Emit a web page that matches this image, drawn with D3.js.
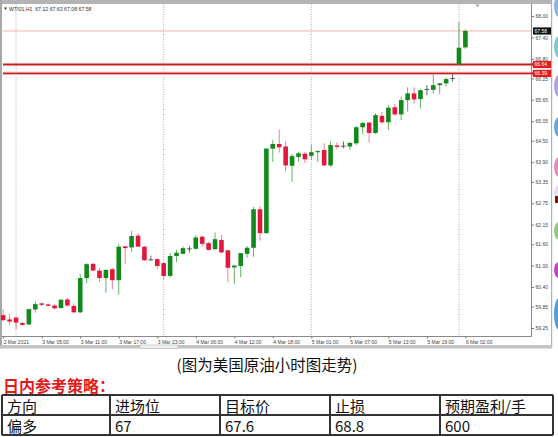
<!DOCTYPE html>
<html><head><meta charset="utf-8">
<script src="https://cdn.jsdelivr.net/npm/d3@7"></script>
<style>body{margin:0;background:#fff}svg{display:block}</style>
</head><body>
<svg id="c" width="558" height="437"></svg>
<script>
// ---- categories: hourly bars (trading hours 01:00-23:00) ----
const sessionDays = ["2 Mar","3 Mar","4 Mar","5 Mar","6 Mar"];
const sessionHours = [[22,23], d3.range(1,24), d3.range(1,24), d3.range(1,24), [1,2]];
const times = [];
sessionDays.forEach((d,i)=>sessionHours[i].forEach(h=>times.push(d+" "+String(h).padStart(2,"0")+":00")));

// ---- OHLC series ----
const openV  = [59.61,59.49,59.54,59.39,59.35,59.77,59.94,59.91,59.88,59.81,60.05,59.87,59.69,60.65,61.05,60.86,60.65,60.90,60.59,61.54,61.51,61.84,61.53,61.16,61.18,61.07,60.71,61.27,61.33,61.47,61.47,61.81,61.63,61.46,61.72,61.43,60.95,60.99,61.33,61.50,62.58,61.91,64.28,64.41,64.34,63.80,64.05,64.14,64.08,64.18,64.24,63.81,64.37,64.35,64.34,64.43,64.88,65.01,64.72,65.20,65.02,65.44,65.24,65.64,65.83,65.67,65.94,65.93,66.06,66.11,66.25,66.64,67.12];
const highV  = [59.78,59.64,59.58,59.42,59.79,59.99,59.97,59.94,59.92,60.06,60.09,59.94,60.76,61.07,61.07,60.93,60.90,60.93,61.61,61.55,61.97,61.91,61.55,61.28,61.21,61.10,61.35,61.44,61.54,61.56,61.85,61.84,61.67,61.93,61.86,61.44,61.02,61.35,61.55,62.65,62.67,64.30,64.52,64.82,64.49,64.13,64.18,64.19,64.38,64.24,64.43,64.49,64.45,64.48,64.47,64.92,65.03,65.03,65.27,65.31,65.50,65.53,65.74,66.00,66.00,65.95,66.06,66.35,66.13,66.28,66.37,67.83,67.63];
const lowV   = [59.45,59.33,59.22,59.31,59.33,59.68,59.87,59.86,59.78,59.80,59.85,59.66,59.67,60.51,60.84,60.54,60.24,60.34,60.18,61.04,61.39,61.52,61.13,61.14,60.91,60.63,60.67,61.10,61.33,61.36,61.45,61.53,61.42,61.45,61.35,60.53,60.48,60.67,61.22,61.25,61.70,61.89,63.91,64.17,63.65,63.35,63.91,63.88,63.96,63.90,63.79,63.77,64.26,64.29,64.24,64.38,64.69,64.45,64.69,64.96,64.80,65.20,65.08,65.32,65.55,65.41,65.78,65.83,65.81,66.02,66.16,66.64,67.08];
const closeV = [59.47,59.43,59.40,59.34,59.78,59.92,59.90,59.87,59.80,60.04,59.88,59.69,60.65,61.04,60.86,60.65,60.88,60.59,61.53,61.49,61.83,61.53,61.15,61.16,60.99,60.71,61.27,61.36,61.49,61.47,61.79,61.61,61.44,61.74,61.37,60.94,61.00,61.35,61.50,62.58,61.91,64.28,64.41,64.32,63.81,64.07,64.15,63.98,64.18,64.21,63.81,64.38,64.33,64.35,64.44,64.88,65.00,64.72,65.22,65.02,65.43,65.24,65.64,65.83,65.66,65.92,65.94,66.06,66.11,66.23,66.25,67.11,67.58];

// ---- axis ticks ----
const priceTicks = [68.00,67.40,66.80,66.25,65.65,65.05,64.50,63.90,63.35,62.75,62.15,61.60,61.00,60.40,59.85,59.25];
const tickTimes  = ["2 Mar 22:00","3 Mar 05:00","3 Mar 11:00","3 Mar 17:00","3 Mar 23:00","4 Mar 06:00","4 Mar 12:00","4 Mar 18:00","5 Mar 01:00","5 Mar 07:00","5 Mar 13:00","5 Mar 19:00","6 Mar 02:00"];
const tickLabels = ["2 Mar 2021","3 Mar 05:00","3 Mar 11:00","3 Mar 17:00","3 Mar 23:00","4 Mar 06:00","4 Mar 12:00","4 Mar 18:00","5 Mar 01:00","5 Mar 07:00","5 Mar 13:00","5 Mar 19:00","6 Mar 02:00"];
const daySeparators = ["3 Mar 01:00","4 Mar 01:00","5 Mar 01:00","6 Mar 01:00"];
const levelValues = [67.58, 66.64, 66.39];
const levelLabels = ["67.58","66.64","66.39"];
const headerText = "WTI01,H1  67.12 67.63 67.08 67.58";

// ---- table ----
const caption = "(图为美国原油小时图走势)";
const strategyTitle = "日内参考策略：";
const tableHeader = ["方向","进场位","目标价","止损","预期盈利/手"];
const tableRow    = ["偏多","67","67.6","68.8","600"];

// ================= drawing =================
const svg = d3.select("#c");
const L = 3, R = 531, T = 4, B = 336;
const x = d3.scalePoint().domain(times).range([3.2, 465.4]);
const y = d3.scaleLinear().domain([59.25, 68.00]).range([328, 16]);

// frame
svg.append("rect").attr("x",0).attr("y",0).attr("width",552).attr("height",4).attr("fill","#b4b4b4");
svg.append("rect").attr("x",0).attr("y",0).attr("width",2).attr("height",348).attr("fill","#a8a8a8");
svg.append("rect").attr("x",551).attr("y",0).attr("width",1.2).attr("height",348).attr("fill","#b0b0b0");
svg.append("rect").attr("x",0).attr("y",345).attr("width",552).attr("height",3.5).attr("fill","#c4c4c4");
svg.append("rect").attr("x",140).attr("y",345).attr("width",38).attr("height",3.5).attr("fill","#f0f0f0").attr("stroke","#aaa").attr("stroke-width",0.5);

// right decorative tabs
const tabs = [[6,11,"#8ab6e2"],[47,11,"#7ccbd0"],[86,11,"#b3a3e3"],[127,10,"#6aa6de"],[167,10,"#e68cba"],[194,9,"#eadcf2"],[231,9,"#8fca7a"],[270,8,"#c444c4"],[314,16,"#4ba0e2"]];
svg.selectAll(".tab").data(tabs).join("ellipse").attr("cx",559).attr("cy",d=>d[0]).attr("rx",5).attr("ry",d=>d[1]).attr("fill",d=>d[2]);
svg.append("rect").attr("x",555).attr("y",196).attr("width",3).attr("height",7).attr("fill","#8a1010");

// header
svg.append("path").attr("d","M4,7.5 L7,7.5 L5.5,10 Z").attr("fill","#333");
svg.append("text").attr("x",9).attr("y",11).attr("font-family","Liberation Sans, Arial").attr("font-size",5.2).attr("fill","#333").attr("xml:space","preserve").text(headerText);

// chart shift marker
svg.append("path").attr("d","M475.5,4.5 L479.5,4.5 L477.5,7 Z").attr("fill","#999");

// day separators
svg.selectAll(".sep").data(daySeparators).join("line")
  .attr("x1",d=>x(d)).attr("x2",d=>x(d)).attr("y1",T).attr("y2",B)
  .attr("stroke","#9a9a9a").attr("stroke-width",0.8).attr("stroke-dasharray","1,1.5");

// level lines
svg.append("line").attr("x1",L).attr("x2",R).attr("y1",y(levelValues[0])).attr("y2",y(levelValues[0])).attr("stroke","#f2b3a6").attr("stroke-width",1);
[1,2].forEach(i=>{
  svg.append("line").attr("x1",L).attr("x2",R).attr("y1",y(levelValues[i])).attr("y2",y(levelValues[i])).attr("stroke","#f0b0b0").attr("stroke-width",3.2);
  svg.append("line").attr("x1",L).attr("x2",R).attr("y1",y(levelValues[i])).attr("y2",y(levelValues[i])).attr("stroke","#c81e1e").attr("stroke-width",1.3);
});

// candles
const bars = times.map((t,i)=>({t,o:openV[i],h:highV[i],l:lowV[i],c:closeV[i]}));
const col = d=> d.c>d.o ? "#12891c" : d.c<d.o ? "#e3173e" : "#555";
const wcol = d=> d.c>d.o ? "#62b366" : d.c<d.o ? "#ee8093" : "#666";
const g = svg.append("g");
g.selectAll(".w").data(bars).join("line")
  .attr("x1",d=>x(d.t)).attr("x2",d=>x(d.t)).attr("y1",d=>y(d.h)).attr("y2",d=>y(d.l))
  .attr("stroke",wcol).attr("stroke-width",1);
const bw = 4.6;
g.selectAll(".b").data(bars).join("rect")
  .attr("x",d=>x(d.t)-bw/2).attr("width",bw)
  .attr("y",d=>d.c===d.o ? y(d.o)-0.5 : y(Math.max(d.o,d.c)))
  .attr("height",d=>d.c===d.o ? 1 : Math.max(1, y(Math.min(d.o,d.c))-y(Math.max(d.o,d.c))))
  .attr("fill",col);

// axes lines
svg.append("line").attr("x1",R+0.5).attr("x2",R+0.5).attr("y1",T).attr("y2",B+0.5).attr("stroke","#8a8a8a");
svg.append("line").attr("x1",2).attr("x2",R+0.5).attr("y1",B+0.5).attr("y2",B+0.5).attr("stroke","#8a8a8a");

// right axis
const ya = svg.append("g").attr("transform",`translate(${R+0.5},0)`)
  .call(d3.axisRight(y).tickValues(priceTicks).tickSize(2.5).tickPadding(1.5).tickFormat(d=>d.toFixed(2)));
ya.select(".domain").remove();
ya.selectAll("line").attr("stroke","#777");
ya.selectAll("text").attr("font-family","Liberation Sans, Arial").attr("font-size",5).attr("fill","#444");

// bottom axis
const xa = svg.append("g").attr("transform",`translate(0,${B+0.5})`)
  .call(d3.axisBottom(x).tickValues(tickTimes).tickSize(2).tickPadding(2.3).tickFormat((d,i)=>tickLabels[i]));
xa.select(".domain").remove();
xa.selectAll("line").attr("stroke","#777");
xa.selectAll("text").attr("text-anchor","start").attr("x",0).attr("font-family","Liberation Sans, Arial").attr("font-size",5).attr("fill","#444");

// level labels
const lab = svg.append("g");
levelValues.forEach((v,i)=>{
  const yy = y(v);
  lab.append("rect").attr("x",533).attr("y",yy-3.6).attr("width",18).attr("height",7.2).attr("fill", i===0 ? "#111" : "#e41c1c");
  if(i>0) lab.append("path").attr("d",`M${R},${yy} L533,${yy-2} L533,${yy+2} Z`).attr("fill","#e41c1c");
  lab.append("text").attr("x",534.5).attr("y",yy+1.8).attr("font-family","Liberation Sans, Arial").attr("font-size",5).attr("fill","#fff").text(levelLabels[i]);
});

// caption & title
svg.append("text").attr("x",267).attr("y",363.5).attr("text-anchor","middle").attr("dominant-baseline","central")
  .attr("font-family","Noto Sans CJK SC").attr("font-size",15.5).attr("fill","#111").text(caption);
svg.append("text").attr("x",3).attr("y",385).attr("dominant-baseline","central")
  .attr("font-family","Noto Sans CJK SC").attr("font-weight","bold").attr("font-size",16).attr("fill","#e01b1b").text(strategyTitle);

// table
const colX = [2,110,220,330,440,553];
const rowY = [395,415,435];
const tg = svg.append("g");
[tableHeader, tableRow].forEach((row,r)=>{
  row.forEach((t,c)=>{
    tg.append("text").attr("x",colX[c]+5).attr("y",(rowY[r]+rowY[r+1])/2+0.5).attr("dominant-baseline","central")
      .attr("font-family","Noto Sans CJK SC").attr("font-size",15).attr("fill","#111").text(t);
  });
});
rowY.forEach(yy=>tg.append("line").attr("x1",colX[0]).attr("x2",colX[5]).attr("y1",yy).attr("y2",yy).attr("stroke","#333").attr("stroke-width",2));
colX.forEach(xx=>tg.append("line").attr("x1",xx).attr("x2",xx).attr("y1",rowY[0]).attr("y2",rowY[2]).attr("stroke","#333").attr("stroke-width",2));
</script>
</body></html>
